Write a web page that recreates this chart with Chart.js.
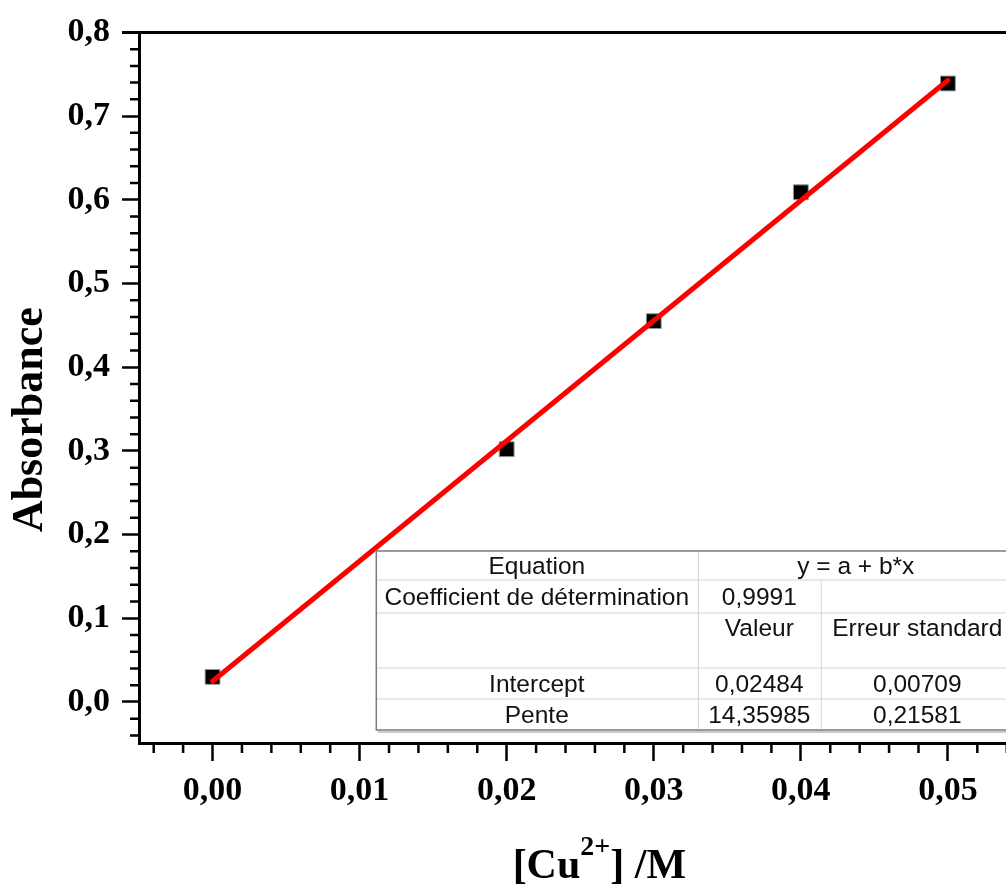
<!DOCTYPE html>
<html>
<head>
<meta charset="utf-8">
<script src="https://cdn.jsdelivr.net/npm/chart.js@4/dist/chart.umd.min.js"></script>
<style>
  html, body { margin: 0; padding: 0; background: #fff; overflow: hidden; }
  canvas { display: block; }
</style>
</head>
<body>
<canvas id="chart" width="1030" height="885"></canvas>
<script>
// ─── Data ────────────────────────────────────────────────────────────────────
const concX      = [0.00, 0.02, 0.03, 0.04, 0.05];
const absorbance = [0.030, 0.302, 0.455, 0.609, 0.739];

// red regression line (end points)
const fitX = [0.00, 0.05];
const fitY = [0.0248, 0.7428];

const xTicks = [0.00, 0.01, 0.02, 0.03, 0.04, 0.05];
const yTicks = [0.0, 0.1, 0.2, 0.3, 0.4, 0.5, 0.6, 0.7, 0.8];

// fit results table
const tblEquationLabel = 'Equation';
const tblEquation      = 'y = a + b*x';
const tblR2Label       = 'Coefficient de détermination';
const tblR2            = '0,9991';
const tblHeaders       = ['Valeur', 'Erreur standard'];
const tblParams        = ['Intercept', 'Pente'];
const tblValues        = ['0,02484', '14,35985'];
const tblErrors        = ['0,00709', '0,21581'];

const SERIF = '"Liberation Serif", "Times New Roman", serif';
const SANS  = '"Liberation Sans", Arial, sans-serif';

// ─── Extra drawing: frame, minor ticks, titles, table ────────────────────────
const decorPlugin = {
  id: 'decor',
  afterDraw(chart) {
    const { ctx, chartArea: a, scales: { x, y } } = chart;
    ctx.save();

    // top + right frame lines
    ctx.strokeStyle = '#000';
    ctx.lineWidth = 3;
    ctx.beginPath();
    ctx.moveTo(a.left - 17, a.top);
    ctx.lineTo(a.right, a.top);
    ctx.lineTo(a.right, a.bottom);
    ctx.stroke();

    // minor ticks
    ctx.lineWidth = 2.5;
    ctx.beginPath();
    for (let i = -2; i <= 27; i++) {
      const v = i * 0.002;
      if (i % 5 === 0 || v < x.min || v > x.max) continue;
      const px = x.getPixelForValue(v);
      ctx.moveTo(px, a.bottom);
      ctx.lineTo(px, a.bottom + 10);
    }
    for (let i = -2; i <= 40; i++) {
      const v = i * 0.02;
      if (i % 5 === 0 || v < y.min || v > y.max) continue;
      const py = y.getPixelForValue(v);
      ctx.moveTo(a.left, py);
      ctx.lineTo(a.left - 9, py);
    }
    ctx.stroke();

    // y title
    ctx.fillStyle = '#000';
    ctx.save();
    ctx.translate(42, (a.top + a.bottom) / 2 + 32);
    ctx.rotate(-Math.PI / 2);
    ctx.font = 'bold 44px ' + SERIF;
    ctx.textAlign = 'center';
    ctx.textBaseline = 'alphabetic';
    ctx.fillText('Absorbance', 0, 0);
    ctx.restore();

    // x title with superscript
    const big = 'bold 42px ' + SERIF, small = 'bold 28px ' + SERIF;
    const parts = [['[Cu', big, 0], ['2+', small, -23], ['] /M', big, 0]];
    let total = 0;
    parts.forEach(p => { ctx.font = p[1]; total += ctx.measureText(p[0]).width; });
    let tx = x.getPixelForValue(0.0263) - total / 2;
    const baseY = 878;
    ctx.textAlign = 'left';
    ctx.textBaseline = 'alphabetic';
    parts.forEach(p => {
      ctx.font = p[1];
      ctx.fillText(p[0], tx, baseY + p[2]);
      tx += ctx.measureText(p[0]).width;
    });

    // results table
    const left = x.getPixelForValue(0.0111);
    const top  = y.getPixelForValue(0.181);
    const colW = [322, 123, 193];
    const rowH = [29, 33, 55, 31, 31];
    const cx = [left, left + colW[0], left + colW[0] + colW[1], left + colW[0] + colW[1] + colW[2]];
    const ry = [top];
    rowH.forEach(h => ry.push(ry[ry.length - 1] + h));
    const W = cx[3] - left, H = ry[5] - top;

    ctx.fillStyle = '#fff';
    ctx.fillRect(left, top, W, H);

    ctx.strokeStyle = '#d4d4d4';
    ctx.lineWidth = 1;
    ctx.beginPath();
    for (let i = 1; i < 5; i++) {
      ctx.moveTo(left, ry[i] + 0.5);
      ctx.lineTo(cx[3], ry[i] + 0.5);
    }
    ctx.moveTo(cx[1] + 0.5, top);
    ctx.lineTo(cx[1] + 0.5, ry[5]);
    ctx.moveTo(cx[2] + 0.5, ry[1]);
    ctx.lineTo(cx[2] + 0.5, ry[5]);
    ctx.stroke();

    ctx.strokeStyle = '#7a7a7a';
    ctx.lineWidth = 1.5;
    ctx.strokeRect(left + 0.5, top + 0.5, W, H);
    ctx.strokeStyle = '#b8b8b8';
    ctx.lineWidth = 1.5;
    ctx.beginPath();
    ctx.moveTo(left + 2, ry[5] + 2.5);
    ctx.lineTo(cx[3], ry[5] + 2.5);
    ctx.stroke();

    ctx.fillStyle = '#111';
    ctx.font = '24.5px ' + SANS;
    ctx.textAlign = 'center';
    ctx.textBaseline = 'middle';
    const mid = (c0, c1) => (cx[c0] + cx[c1]) / 2;
    const ty = [17, 48, 79, 135, 166].map(d => top + d);
    ctx.fillText(tblEquationLabel, mid(0, 1), ty[0]);
    ctx.fillText(tblEquation, mid(1, 3), ty[0]);
    ctx.fillText(tblR2Label, mid(0, 1), ty[1]);
    ctx.fillText(tblR2, mid(1, 2), ty[1]);
    ctx.fillText(tblHeaders[0], mid(1, 2), ty[2]);
    ctx.fillText(tblHeaders[1], mid(2, 3), ty[2]);
    tblParams.forEach((p, i) => {
      ctx.fillText(p, mid(0, 1), ty[3 + i]);
      ctx.fillText(tblValues[i], mid(1, 2), ty[3 + i]);
      ctx.fillText(tblErrors[i], mid(2, 3), ty[3 + i]);
    });

    ctx.restore();
  }
};

const tickFont = { family: SERIF, size: 34, weight: 'bold' };

new Chart(document.getElementById('chart'), {
  type: 'scatter',
  data: {
    datasets: [
      {
        type: 'line',
        label: 'Fit',
        data: fitX.map((v, i) => ({ x: v, y: fitY[i] })),
        borderColor: '#ff0000',
        borderWidth: 5,
        borderCapStyle: 'round',
        pointRadius: 0,
        fill: false,
        order: 1
      },
      {
        label: 'Absorbance',
        data: concX.map((v, i) => ({ x: v, y: absorbance[i] })),
        pointStyle: 'rect',
        pointRadius: 10.5,
        backgroundColor: '#000',
        borderColor: '#9a9a9a',
        borderWidth: 1,
        order: 2
      }
    ]
  },
  options: {
    responsive: false,
    animation: false,
    devicePixelRatio: 1,
    layout: { padding: { top: 28, right: 2, left: 0, bottom: 0 } },
    plugins: { legend: { display: false }, tooltip: { enabled: false } },
    scales: {
      x: {
        type: 'linear',
        min: -0.005,
        max: 0.0548,
        afterBuildTicks(scale) { scale.ticks = xTicks.map(v => ({ value: v })); },
        afterFit(scale) { scale.height = 142; },
        ticks: {
          color: '#000',
          font: tickFont,
          padding: 10,
          maxRotation: 0,
          callback: v => v.toFixed(2).replace('.', ',')
        },
        grid: { drawOnChartArea: false, tickLength: 18, tickWidth: 2.5, tickColor: '#000' },
        border: { display: true, width: 3, color: '#000' }
      },
      y: {
        type: 'linear',
        min: -0.049,
        max: 0.8,
        afterBuildTicks(scale) { scale.ticks = yTicks.map(v => ({ value: v })); },
        afterFit(scale) { scale.width = 139; },
        ticks: {
          color: '#000',
          font: tickFont,
          padding: 12,
          callback: v => v.toFixed(1).replace('.', ',')
        },
        grid: { drawOnChartArea: false, tickLength: 17, tickWidth: 2.5, tickColor: '#000' },
        border: { display: true, width: 3, color: '#000' }
      }
    }
  },
  plugins: [decorPlugin]
});
</script>
</body>
</html>
